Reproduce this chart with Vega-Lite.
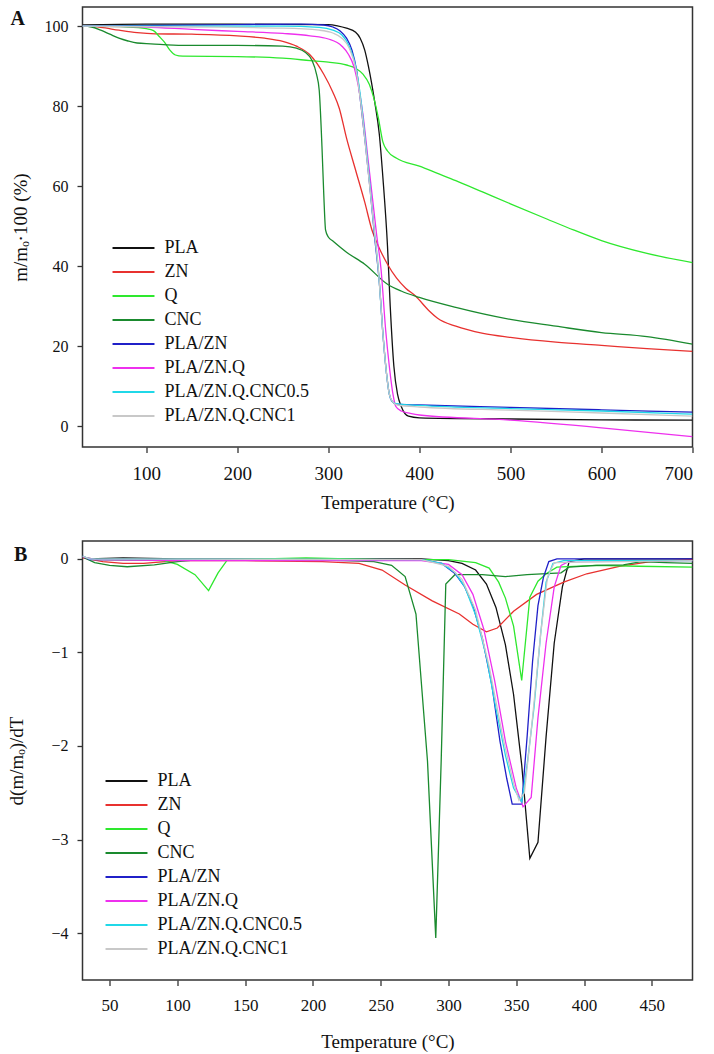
{
  "$schema": "https://vega.github.io/schema/vega-lite/v6.json",
  "padding": {"left": 6.5, "top": 6, "right": 5, "bottom": 5},
  "background": "white",
  "spacing": 26,
  "config": {
    "font": "Liberation Serif",
    "style": {"guide-label": {"font": "Liberation Serif"}, "guide-title": {"font": "Liberation Serif"}, "group-title": {"font": "Liberation Serif"}},
    "view": {"stroke": "#333333", "strokeWidth": 1.5},
    "axis": {"grid": false, "domain": false, "tickColor": "#333333", "tickSize": 5.5, "tickWidth": 1.3, "labelColor": "#111111", "titleColor": "#111111", "labelFont": "Liberation Serif", "titleFont": "Liberation Serif", "titleFontWeight": "normal"},
    "legend": {"orient": "none", "title": null, "symbolType": "M-4,0H4", "symbolSize": 110, "symbolStrokeWidth": 2, "labelFont": "Liberation Serif", "labelFontSize": 18, "labelColor": "#111111", "labelOffset": 22, "padding": 0, "rowPadding": 6}
  },
  "datasets": {
    "tga": [
      {"s":"PLA","t":30,"v":100.3},{"s":"PLA","t":100,"v":100.5},{"s":"PLA","t":200,"v":100.5},{"s":"PLA","t":300,"v":100.4},{"s":"PLA","t":310,"v":100.1},{"s":"PLA","t":320,"v":99.5},{"s":"PLA","t":330,"v":98.5},{"s":"PLA","t":335,"v":97},{"s":"PLA","t":340,"v":94},{"s":"PLA","t":344,"v":90},{"s":"PLA","t":351,"v":81},{"s":"PLA","t":356,"v":73},{"s":"PLA","t":360,"v":62},{"s":"PLA","t":365,"v":45},{"s":"PLA","t":368,"v":30},{"s":"PLA","t":372,"v":15},{"s":"PLA","t":376,"v":8},{"s":"PLA","t":380,"v":5},{"s":"PLA","t":388,"v":2.5},{"s":"PLA","t":400,"v":2.1},{"s":"PLA","t":500,"v":1.8},{"s":"PLA","t":600,"v":1.6},{"s":"PLA","t":700,"v":1.5},

      {"s":"ZN","t":30,"v":100},{"s":"ZN","t":50,"v":99.7},{"s":"ZN","t":70,"v":99},{"s":"ZN","t":90,"v":98.4},{"s":"ZN","t":110,"v":98.1},{"s":"ZN","t":150,"v":98},{"s":"ZN","t":200,"v":97.6},{"s":"ZN","t":230,"v":97},{"s":"ZN","t":250,"v":96.2},{"s":"ZN","t":265,"v":95},{"s":"ZN","t":280,"v":92.8},{"s":"ZN","t":295,"v":88},{"s":"ZN","t":305,"v":83.5},{"s":"ZN","t":312,"v":79.5},{"s":"ZN","t":320,"v":72},{"s":"ZN","t":330,"v":64},{"s":"ZN","t":340,"v":56},{"s":"ZN","t":348,"v":49},{"s":"ZN","t":356,"v":44.5},{"s":"ZN","t":365,"v":40.5},{"s":"ZN","t":375,"v":37},{"s":"ZN","t":385,"v":34.5},{"s":"ZN","t":396,"v":32.5},{"s":"ZN","t":410,"v":29},{"s":"ZN","t":420,"v":27},{"s":"ZN","t":440,"v":25},{"s":"ZN","t":470,"v":23.2},{"s":"ZN","t":500,"v":22.2},{"s":"ZN","t":550,"v":21},{"s":"ZN","t":600,"v":20.2},{"s":"ZN","t":650,"v":19.4},{"s":"ZN","t":700,"v":18.7},

      {"s":"Q","t":30,"v":100},{"s":"Q","t":80,"v":99.8},{"s":"Q","t":100,"v":99.4},{"s":"Q","t":108,"v":98.9},{"s":"Q","t":114,"v":97.5},{"s":"Q","t":120,"v":96},{"s":"Q","t":126,"v":94},{"s":"Q","t":132,"v":92.8},{"s":"Q","t":140,"v":92.5},{"s":"Q","t":200,"v":92.4},{"s":"Q","t":250,"v":92},{"s":"Q","t":280,"v":91.4},{"s":"Q","t":300,"v":91},{"s":"Q","t":320,"v":90.3},{"s":"Q","t":330,"v":89.5},{"s":"Q","t":338,"v":88},{"s":"Q","t":345,"v":85.5},{"s":"Q","t":350,"v":82},{"s":"Q","t":355,"v":77},{"s":"Q","t":360,"v":71},{"s":"Q","t":365,"v":68.8},{"s":"Q","t":375,"v":67},{"s":"Q","t":400,"v":65},{"s":"Q","t":420,"v":63.2},{"s":"Q","t":440,"v":61.4},{"s":"Q","t":470,"v":58.5},{"s":"Q","t":500,"v":55.6},{"s":"Q","t":540,"v":51.8},{"s":"Q","t":570,"v":49},{"s":"Q","t":600,"v":46.4},{"s":"Q","t":650,"v":43.2},{"s":"Q","t":700,"v":40.9},

      {"s":"CNC","t":30,"v":100},{"s":"CNC","t":40,"v":99.8},{"s":"CNC","t":50,"v":99},{"s":"CNC","t":60,"v":98},{"s":"CNC","t":70,"v":97},{"s":"CNC","t":80,"v":96.3},{"s":"CNC","t":90,"v":95.8},{"s":"CNC","t":105,"v":95.6},{"s":"CNC","t":140,"v":95.2},{"s":"CNC","t":200,"v":95.2},{"s":"CNC","t":250,"v":95},{"s":"CNC","t":265,"v":94.5},{"s":"CNC","t":275,"v":93.4},{"s":"CNC","t":282,"v":91.5},{"s":"CNC","t":287,"v":88},{"s":"CNC","t":290,"v":84},{"s":"CNC","t":293,"v":70},{"s":"CNC","t":295,"v":58},{"s":"CNC","t":297,"v":49},{"s":"CNC","t":300,"v":47.3},{"s":"CNC","t":305,"v":46.3},{"s":"CNC","t":320,"v":43.5},{"s":"CNC","t":340,"v":40.5},{"s":"CNC","t":365,"v":35.5},{"s":"CNC","t":380,"v":33.8},{"s":"CNC","t":400,"v":32.2},{"s":"CNC","t":440,"v":29.7},{"s":"CNC","t":500,"v":26.7},{"s":"CNC","t":550,"v":25},{"s":"CNC","t":600,"v":23.4},{"s":"CNC","t":650,"v":22.4},{"s":"CNC","t":700,"v":20.5},

      {"s":"PLA/ZN","t":30,"v":100},{"s":"PLA/ZN","t":200,"v":100.4},{"s":"PLA/ZN","t":270,"v":100.5},{"s":"PLA/ZN","t":295,"v":100.3},{"s":"PLA/ZN","t":305,"v":99.8},{"s":"PLA/ZN","t":313,"v":98.8},{"s":"PLA/ZN","t":320,"v":97},{"s":"PLA/ZN","t":326,"v":94},{"s":"PLA/ZN","t":331,"v":89},{"s":"PLA/ZN","t":336,"v":80},{"s":"PLA/ZN","t":341,"v":70},{"s":"PLA/ZN","t":346,"v":59},{"s":"PLA/ZN","t":351,"v":47},{"s":"PLA/ZN","t":356,"v":36},{"s":"PLA/ZN","t":360,"v":23},{"s":"PLA/ZN","t":364,"v":13},{"s":"PLA/ZN","t":367,"v":8},{"s":"PLA/ZN","t":370,"v":6.2},{"s":"PLA/ZN","t":375,"v":5.5},{"s":"PLA/ZN","t":400,"v":5.3},{"s":"PLA/ZN","t":500,"v":4.7},{"s":"PLA/ZN","t":600,"v":4.1},{"s":"PLA/ZN","t":700,"v":3.5},

      {"s":"PLA/ZN.Q","t":30,"v":100},{"s":"PLA/ZN.Q","t":100,"v":99.8},{"s":"PLA/ZN.Q","t":150,"v":99.2},{"s":"PLA/ZN.Q","t":200,"v":98.7},{"s":"PLA/ZN.Q","t":250,"v":98.2},{"s":"PLA/ZN.Q","t":280,"v":97.6},{"s":"PLA/ZN.Q","t":300,"v":96.8},{"s":"PLA/ZN.Q","t":315,"v":95},{"s":"PLA/ZN.Q","t":322,"v":93},{"s":"PLA/ZN.Q","t":328,"v":90},{"s":"PLA/ZN.Q","t":333,"v":85},{"s":"PLA/ZN.Q","t":338,"v":78},{"s":"PLA/ZN.Q","t":343,"v":68},{"s":"PLA/ZN.Q","t":348,"v":58},{"s":"PLA/ZN.Q","t":353,"v":48},{"s":"PLA/ZN.Q","t":358,"v":39},{"s":"PLA/ZN.Q","t":363,"v":24},{"s":"PLA/ZN.Q","t":367,"v":15},{"s":"PLA/ZN.Q","t":371,"v":8},{"s":"PLA/ZN.Q","t":374,"v":5},{"s":"PLA/ZN.Q","t":380,"v":3.8},{"s":"PLA/ZN.Q","t":390,"v":3.2},{"s":"PLA/ZN.Q","t":400,"v":2.8},{"s":"PLA/ZN.Q","t":500,"v":1.5},{"s":"PLA/ZN.Q","t":600,"v":-0.4},{"s":"PLA/ZN.Q","t":700,"v":-2.6},

      {"s":"PLA/ZN.Q.CNC0.5","t":30,"v":100},{"s":"PLA/ZN.Q.CNC0.5","t":200,"v":100},{"s":"PLA/ZN.Q.CNC0.5","t":250,"v":100},{"s":"PLA/ZN.Q.CNC0.5","t":290,"v":99.7},{"s":"PLA/ZN.Q.CNC0.5","t":305,"v":99},{"s":"PLA/ZN.Q.CNC0.5","t":315,"v":97.8},{"s":"PLA/ZN.Q.CNC0.5","t":323,"v":95},{"s":"PLA/ZN.Q.CNC0.5","t":330,"v":90},{"s":"PLA/ZN.Q.CNC0.5","t":335,"v":83},{"s":"PLA/ZN.Q.CNC0.5","t":340,"v":73},{"s":"PLA/ZN.Q.CNC0.5","t":345,"v":62},{"s":"PLA/ZN.Q.CNC0.5","t":350,"v":50},{"s":"PLA/ZN.Q.CNC0.5","t":355,"v":39},{"s":"PLA/ZN.Q.CNC0.5","t":360,"v":23},{"s":"PLA/ZN.Q.CNC0.5","t":364,"v":13},{"s":"PLA/ZN.Q.CNC0.5","t":367,"v":8},{"s":"PLA/ZN.Q.CNC0.5","t":371,"v":6},{"s":"PLA/ZN.Q.CNC0.5","t":376,"v":5.6},{"s":"PLA/ZN.Q.CNC0.5","t":400,"v":5.2},{"s":"PLA/ZN.Q.CNC0.5","t":500,"v":4.4},{"s":"PLA/ZN.Q.CNC0.5","t":600,"v":3.8},{"s":"PLA/ZN.Q.CNC0.5","t":700,"v":3.0},

      {"s":"PLA/ZN.Q.CNC1","t":30,"v":100},{"s":"PLA/ZN.Q.CNC1","t":150,"v":99.8},{"s":"PLA/ZN.Q.CNC1","t":250,"v":99.5},{"s":"PLA/ZN.Q.CNC1","t":290,"v":99},{"s":"PLA/ZN.Q.CNC1","t":305,"v":98.3},{"s":"PLA/ZN.Q.CNC1","t":315,"v":97},{"s":"PLA/ZN.Q.CNC1","t":323,"v":94.5},{"s":"PLA/ZN.Q.CNC1","t":330,"v":89.5},{"s":"PLA/ZN.Q.CNC1","t":335,"v":82},{"s":"PLA/ZN.Q.CNC1","t":340,"v":72},{"s":"PLA/ZN.Q.CNC1","t":345,"v":61},{"s":"PLA/ZN.Q.CNC1","t":350,"v":50},{"s":"PLA/ZN.Q.CNC1","t":355,"v":39},{"s":"PLA/ZN.Q.CNC1","t":360,"v":23},{"s":"PLA/ZN.Q.CNC1","t":364,"v":13},{"s":"PLA/ZN.Q.CNC1","t":367,"v":8},{"s":"PLA/ZN.Q.CNC1","t":371,"v":6},{"s":"PLA/ZN.Q.CNC1","t":376,"v":5.3},{"s":"PLA/ZN.Q.CNC1","t":400,"v":4.8},{"s":"PLA/ZN.Q.CNC1","t":500,"v":4.0},{"s":"PLA/ZN.Q.CNC1","t":600,"v":3.3},{"s":"PLA/ZN.Q.CNC1","t":700,"v":2.5}
    ],
    "dtg": [
      {"s":"PLA","t":30,"v":0.02},{"s":"PLA","t":35,"v":0},{"s":"PLA","t":60,"v":0.01},{"s":"PLA","t":100,"v":0},{"s":"PLA","t":200,"v":0},{"s":"PLA","t":280,"v":0},{"s":"PLA","t":300,"v":-0.02},{"s":"PLA","t":310,"v":-0.05},{"s":"PLA","t":320,"v":-0.12},{"s":"PLA","t":328,"v":-0.27},{"s":"PLA","t":335,"v":-0.52},{"s":"PLA","t":342,"v":-0.92},{"s":"PLA","t":348,"v":-1.45},{"s":"PLA","t":354,"v":-2.2},{"s":"PLA","t":360,"v":-3.2},{"s":"PLA","t":366,"v":-3.03},{"s":"PLA","t":372,"v":-1.9},{"s":"PLA","t":378,"v":-0.9},{"s":"PLA","t":384,"v":-0.3},{"s":"PLA","t":389,"v":-0.03},{"s":"PLA","t":400,"v":0},{"s":"PLA","t":480,"v":0},

      {"s":"ZN","t":30,"v":0.01},{"s":"ZN","t":45,"v":-0.03},{"s":"ZN","t":60,"v":-0.05},{"s":"ZN","t":75,"v":-0.05},{"s":"ZN","t":100,"v":-0.02},{"s":"ZN","t":150,"v":-0.02},{"s":"ZN","t":207,"v":-0.03},{"s":"ZN","t":234,"v":-0.05},{"s":"ZN","t":251,"v":-0.12},{"s":"ZN","t":268,"v":-0.28},{"s":"ZN","t":288,"v":-0.45},{"s":"ZN","t":308,"v":-0.59},{"s":"ZN","t":318,"v":-0.7},{"s":"ZN","t":328,"v":-0.78},{"s":"ZN","t":336,"v":-0.74},{"s":"ZN","t":348,"v":-0.56},{"s":"ZN","t":365,"v":-0.38},{"s":"ZN","t":385,"v":-0.25},{"s":"ZN","t":402,"v":-0.16},{"s":"ZN","t":426,"v":-0.08},{"s":"ZN","t":449,"v":-0.03},{"s":"ZN","t":480,"v":-0.01},

      {"s":"Q","t":30,"v":0.02},{"s":"Q","t":40,"v":-0.01},{"s":"Q","t":90,"v":-0.02},{"s":"Q","t":100,"v":-0.06},{"s":"Q","t":113,"v":-0.17},{"s":"Q","t":123,"v":-0.34},{"s":"Q","t":130,"v":-0.15},{"s":"Q","t":137,"v":-0.01},{"s":"Q","t":195,"v":0.01},{"s":"Q","t":250,"v":-0.01},{"s":"Q","t":300,"v":-0.01},{"s":"Q","t":320,"v":-0.04},{"s":"Q","t":330,"v":-0.1},{"s":"Q","t":337,"v":-0.25},{"s":"Q","t":342,"v":-0.42},{"s":"Q","t":348,"v":-0.72},{"s":"Q","t":354,"v":-1.3},{"s":"Q","t":360,"v":-0.41},{"s":"Q","t":366,"v":-0.24},{"s":"Q","t":372,"v":-0.16},{"s":"Q","t":380,"v":-0.09},{"s":"Q","t":409,"v":-0.07},{"s":"Q","t":440,"v":-0.08},{"s":"Q","t":480,"v":-0.09},

      {"s":"CNC","t":30,"v":0.02},{"s":"CNC","t":39,"v":-0.04},{"s":"CNC","t":50,"v":-0.07},{"s":"CNC","t":63,"v":-0.085},{"s":"CNC","t":83,"v":-0.065},{"s":"CNC","t":100,"v":-0.03},{"s":"CNC","t":116,"v":-0.01},{"s":"CNC","t":200,"v":-0.01},{"s":"CNC","t":245,"v":-0.03},{"s":"CNC","t":258,"v":-0.07},{"s":"CNC","t":268,"v":-0.19},{"s":"CNC","t":276,"v":-0.59},{"s":"CNC","t":284.5,"v":-2.16},{"s":"CNC","t":290.6,"v":-4.05},{"s":"CNC","t":294.6,"v":-2.16},{"s":"CNC","t":298,"v":-0.27},{"s":"CNC","t":304.7,"v":-0.17},{"s":"CNC","t":325,"v":-0.17},{"s":"CNC","t":342,"v":-0.19},{"s":"CNC","t":358,"v":-0.17},{"s":"CNC","t":383,"v":-0.15},{"s":"CNC","t":389,"v":-0.09},{"s":"CNC","t":409,"v":-0.07},{"s":"CNC","t":429,"v":-0.065},{"s":"CNC","t":442,"v":-0.03},{"s":"CNC","t":460,"v":-0.04},{"s":"CNC","t":480,"v":-0.05},

      {"s":"PLA/ZN","t":30,"v":0.03},{"s":"PLA/ZN","t":35,"v":-0.01},{"s":"PLA/ZN","t":200,"v":-0.01},{"s":"PLA/ZN","t":280,"v":-0.01},{"s":"PLA/ZN","t":295,"v":-0.05},{"s":"PLA/ZN","t":305,"v":-0.16},{"s":"PLA/ZN","t":312,"v":-0.3},{"s":"PLA/ZN","t":318,"v":-0.5},{"s":"PLA/ZN","t":325,"v":-0.85},{"s":"PLA/ZN","t":332,"v":-1.35},{"s":"PLA/ZN","t":338,"v":-1.95},{"s":"PLA/ZN","t":343,"v":-2.35},{"s":"PLA/ZN","t":347,"v":-2.62},{"s":"PLA/ZN","t":354,"v":-2.62},{"s":"PLA/ZN","t":358,"v":-1.9},{"s":"PLA/ZN","t":362,"v":-1.1},{"s":"PLA/ZN","t":366,"v":-0.5},{"s":"PLA/ZN","t":370,"v":-0.2},{"s":"PLA/ZN","t":374,"v":-0.03},{"s":"PLA/ZN","t":380,"v":0},{"s":"PLA/ZN","t":480,"v":0},

      {"s":"PLA/ZN.Q","t":30,"v":0.02},{"s":"PLA/ZN.Q","t":40,"v":-0.01},{"s":"PLA/ZN.Q","t":100,"v":-0.02},{"s":"PLA/ZN.Q","t":280,"v":-0.02},{"s":"PLA/ZN.Q","t":300,"v":-0.06},{"s":"PLA/ZN.Q","t":310,"v":-0.17},{"s":"PLA/ZN.Q","t":318,"v":-0.38},{"s":"PLA/ZN.Q","t":326,"v":-0.75},{"s":"PLA/ZN.Q","t":334,"v":-1.3},{"s":"PLA/ZN.Q","t":342,"v":-1.95},{"s":"PLA/ZN.Q","t":350,"v":-2.45},{"s":"PLA/ZN.Q","t":355,"v":-2.65},{"s":"PLA/ZN.Q","t":361,"v":-2.55},{"s":"PLA/ZN.Q","t":366,"v":-1.7},{"s":"PLA/ZN.Q","t":372,"v":-0.9},{"s":"PLA/ZN.Q","t":378,"v":-0.3},{"s":"PLA/ZN.Q","t":383,"v":-0.07},{"s":"PLA/ZN.Q","t":390,"v":-0.02},{"s":"PLA/ZN.Q","t":480,"v":-0.02},

      {"s":"PLA/ZN.Q.CNC0.5","t":30,"v":0.03},{"s":"PLA/ZN.Q.CNC0.5","t":35,"v":0},{"s":"PLA/ZN.Q.CNC0.5","t":280,"v":-0.01},{"s":"PLA/ZN.Q.CNC0.5","t":295,"v":-0.05},{"s":"PLA/ZN.Q.CNC0.5","t":305,"v":-0.15},{"s":"PLA/ZN.Q.CNC0.5","t":312,"v":-0.3},{"s":"PLA/ZN.Q.CNC0.5","t":320,"v":-0.6},{"s":"PLA/ZN.Q.CNC0.5","t":328,"v":-1.05},{"s":"PLA/ZN.Q.CNC0.5","t":335,"v":-1.6},{"s":"PLA/ZN.Q.CNC0.5","t":342,"v":-2.1},{"s":"PLA/ZN.Q.CNC0.5","t":348,"v":-2.45},{"s":"PLA/ZN.Q.CNC0.5","t":354,"v":-2.6},{"s":"PLA/ZN.Q.CNC0.5","t":358,"v":-2.2},{"s":"PLA/ZN.Q.CNC0.5","t":363,"v":-1.6},{"s":"PLA/ZN.Q.CNC0.5","t":368,"v":-0.8},{"s":"PLA/ZN.Q.CNC0.5","t":372,"v":-0.25},{"s":"PLA/ZN.Q.CNC0.5","t":377,"v":-0.05},{"s":"PLA/ZN.Q.CNC0.5","t":385,"v":-0.02},{"s":"PLA/ZN.Q.CNC0.5","t":480,"v":-0.02},

      {"s":"PLA/ZN.Q.CNC1","t":30,"v":0.03},{"s":"PLA/ZN.Q.CNC1","t":35,"v":0},{"s":"PLA/ZN.Q.CNC1","t":280,"v":-0.01},{"s":"PLA/ZN.Q.CNC1","t":300,"v":-0.08},{"s":"PLA/ZN.Q.CNC1","t":310,"v":-0.22},{"s":"PLA/ZN.Q.CNC1","t":320,"v":-0.55},{"s":"PLA/ZN.Q.CNC1","t":330,"v":-1.15},{"s":"PLA/ZN.Q.CNC1","t":340,"v":-1.9},{"s":"PLA/ZN.Q.CNC1","t":348,"v":-2.4},{"s":"PLA/ZN.Q.CNC1","t":352,"v":-2.58},{"s":"PLA/ZN.Q.CNC1","t":356,"v":-2.5},{"s":"PLA/ZN.Q.CNC1","t":362,"v":-1.7},{"s":"PLA/ZN.Q.CNC1","t":368,"v":-0.8},{"s":"PLA/ZN.Q.CNC1","t":373,"v":-0.2},{"s":"PLA/ZN.Q.CNC1","t":378,"v":-0.04},{"s":"PLA/ZN.Q.CNC1","t":480,"v":-0.02}
    ]
  },
  "resolve": {"scale": {"color": "independent", "x": "independent", "y": "independent"}, "legend": {"color": "independent"}},
  "vconcat": [
    {
      "width": 610,
      "height": 440,
      "title": {"text": "A", "anchor": "start", "frame": "group", "dx": -72, "dy": 38, "offset": 0, "baseline": "alphabetic", "fontSize": 20, "fontWeight": "bold", "font": "Liberation Serif", "color": "#111111"},
      "data": {"name": "tga"},
      "mark": {"type": "line", "strokeWidth": 1.3, "interpolate": "monotone", "clip": true},
      "encoding": {
        "x": {"field": "t", "type": "quantitative", "scale": {"domain": [30, 700], "nice": false, "zero": false},
              "axis": {"values": [100, 200, 300, 400, 500, 600, 700], "title": "Temperature (°C)", "labelFontSize": 19, "titleFontSize": 19, "labelPadding": 12, "titlePadding": 10}},
        "y": {"field": "v", "type": "quantitative", "scale": {"domain": [-5.2, 104.8], "nice": false, "zero": false},
              "axis": {"values": [0, 20, 40, 60, 80, 100], "title": "m/mₒ·100 (%)", "labelFontSize": 16, "titleFontSize": 19, "labelPadding": 9, "titlePadding": 14}},
        "color": {"field": "s", "type": "nominal",
                  "scale": {"domain": ["PLA", "ZN", "Q", "CNC", "PLA/ZN", "PLA/ZN.Q", "PLA/ZN.Q.CNC0.5", "PLA/ZN.Q.CNC1"],
                            "range": ["#111111", "#e8312f", "#2ee82e", "#1a8a2e", "#2020c8", "#ee30ee", "#20d8e8", "#c8c8c8"]},
                  "legend": {"legendX": 42, "legendY": 232}}
      }
    },
    {
      "width": 610,
      "height": 439,
      "title": {"text": "B", "anchor": "start", "frame": "group", "dx": -68.5, "dy": 40, "offset": 0, "baseline": "alphabetic", "fontSize": 20, "fontWeight": "bold", "font": "Liberation Serif", "color": "#111111"},
      "data": {"name": "dtg"},
      "mark": {"type": "line", "strokeWidth": 1.3, "interpolate": "linear", "clip": true},
      "encoding": {
        "x": {"field": "t", "type": "quantitative", "scale": {"domain": [30, 480], "nice": false, "zero": false},
              "axis": {"values": [50, 100, 150, 200, 250, 300, 350, 400, 450], "title": "Temperature (°C)", "labelFontSize": 17, "titleFontSize": 19, "labelPadding": 12, "titlePadding": 19}},
        "y": {"field": "v", "type": "quantitative", "scale": {"domain": [-4.5, 0.19], "nice": false, "zero": false},
              "axis": {"values": [0, -1, -2, -3, -4], "title": "d(m/mₒ)/dT", "labelFontSize": 16, "titleFontSize": 19, "labelPadding": 9, "titlePadding": 24}},
        "color": {"field": "s", "type": "nominal",
                  "scale": {"domain": ["PLA", "ZN", "Q", "CNC", "PLA/ZN", "PLA/ZN.Q", "PLA/ZN.Q.CNC0.5", "PLA/ZN.Q.CNC1"],
                            "range": ["#111111", "#e8312f", "#2ee82e", "#1a8a2e", "#2020c8", "#ee30ee", "#20d8e8", "#c8c8c8"]},
                  "legend": {"legendX": 35, "legendY": 231}}
      }
    }
  ]
}
